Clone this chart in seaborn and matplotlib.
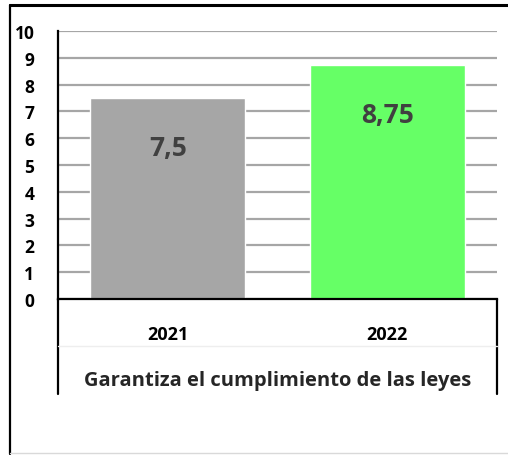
import matplotlib.pyplot as plt
import pandas as pd
import seaborn as sns
from matplotlib.lines import Line2D

# Data
years = ['2021', '2022']
scores = [7.5, 8.75]
score_labels = ['7,5', '8,75']
bar_colors = ['#a6a6a6', '#66ff66']
title = 'Garantiza el cumplimiento de las leyes'

df = pd.DataFrame({'year': years, 'score': scores})

sns.set_style('white')
plt.rcParams['font.family'] = ['Open Sans', 'DejaVu Sans']

W, H = 508, 456
fig = plt.figure(figsize=(W / 100, H / 100), dpi=100)


def fx(x):
  return x / W


def fy(y):
  return 1 - y / H


ax = fig.add_axes([fx(58), fy(300), fx(497) - fx(58), fy(32) - fy(300)])

sns.barplot(data=df, x='year', y='score', hue='year', palette=bar_colors,
            width=0.706, legend=False, saturation=1, ax=ax)

ax.set_ylim(0, 10)
ax.set_xlim(-0.5, 1.5)
ax.set_yticks(range(0, 11))
ax.set_yticklabels([str(i) for i in range(0, 11)], fontweight='bold',
                   fontsize=12.5, color='black')
ax.tick_params(axis='y', length=0, pad=17)
ax.tick_params(axis='x', length=0, pad=19, labelsize=13, labelcolor='black')
for lbl in ax.get_xticklabels():
  lbl.set_fontweight('bold')
ax.set_ylabel('')
ax.set_xlabel(title, fontsize=14.5, fontweight='bold', labelpad=19)
ax.yaxis.grid(True, color='#a6a6a6', linewidth=1.6)
ax.set_axisbelow(True)

for s in ['top', 'right']:
  ax.spines[s].set_visible(False)
ax.spines['left'].set_color('black')
ax.spines['left'].set_linewidth(1.6)
ax.spines['bottom'].set_color('black')
ax.spines['bottom'].set_linewidth(1.6)

# value labels inside bars
for i, (v, t) in enumerate(zip(scores, score_labels)):
  ax.annotate(t, (i, v), xytext=(0, -36), textcoords='offset points',
              ha='center', va='center', fontsize=19, fontweight='bold',
              color='#404040')

# table-like lines below the axis and outer frame
lines = [
    ((58, 58), (300, 395), 'black', 1.6),
    ((497, 497), (300, 395), 'black', 1.6),
    ((58, 497), (347, 347), '#eeeeee', 1.0),
    ((10, 508), (6, 6), 'black', 2.2),
    ((10, 10), (6, 455), 'black', 1.6),
    ((10, 508), (454, 454), '#d9d9d9', 1.0),
]
for xs, ys, c, lw in lines:
  fig.add_artist(Line2D([fx(xs[0]), fx(xs[1])], [fy(ys[0]), fy(ys[1])],
                        color=c, linewidth=lw, transform=fig.transFigure))

fig.savefig('out.png', dpi=100)
